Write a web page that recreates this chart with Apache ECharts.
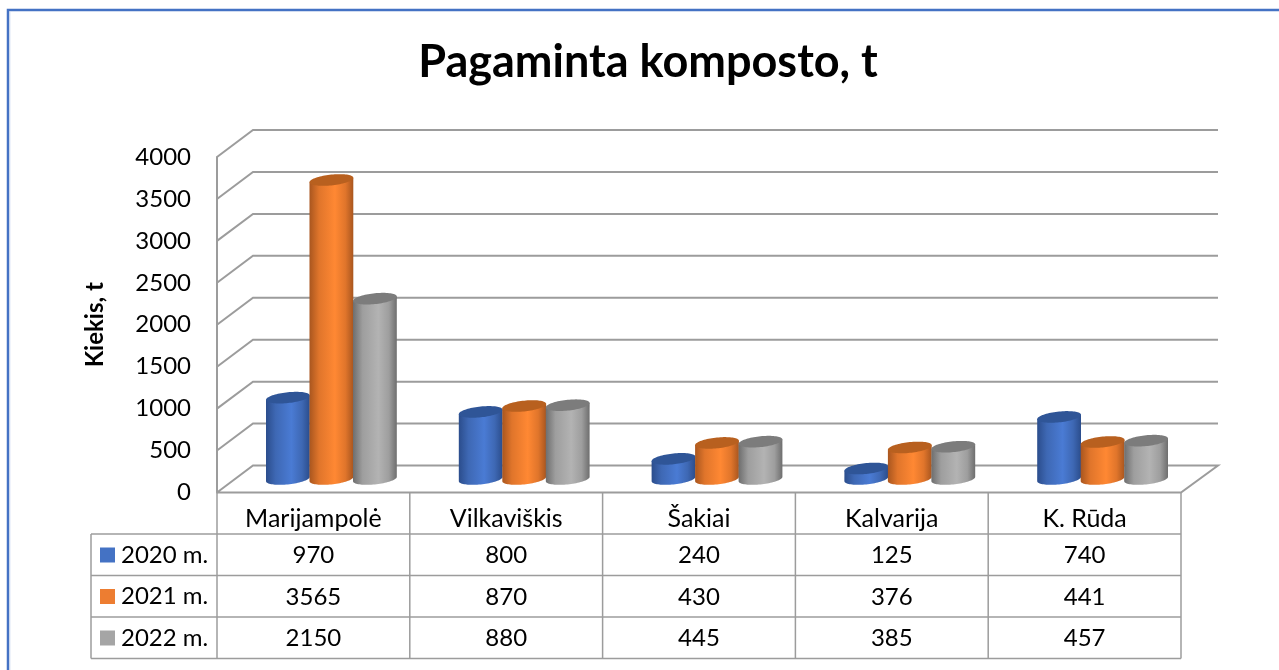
<!DOCTYPE html>
<html>
<head>
<meta charset="utf-8">
<style>html,body{margin:0;padding:0;background:#fff;overflow:hidden}#c{width:1279px;height:670px}</style>
<script src="https://cdn.jsdelivr.net/npm/echarts@6/dist/echarts.min.js"></script>
</head>
<body>
<div id="c"></div>
<script>
var titleText = 'Pagaminta komposto, t';
var yAxisTitle = 'Kiekis, t';
var categories = ['Marijampolė', 'Vilkaviškis', 'Šakiai', 'Kalvarija', 'K. Rūda'];
var seriesNames = ['2020 m.', '2021 m.', '2022 m.'];
var values2020 = [970, 800, 240, 125, 740];
var values2021 = [3565, 870, 430, 376, 441];
var values2022 = [2150, 880, 445, 385, 457];
var yTicks = [0, 500, 1000, 1500, 2000, 2500, 3000, 3500, 4000];
var legendColors = ['#4472C4', '#ED7D31', '#A5A5A5'];
var bodyShades = [
  ['#2B4D8C', '#3E68B4', '#4A7BD4', '#3E68B4', '#2B4D8C'],
  ['#A9561F', '#E0752B', '#FF8833', '#E0752B', '#A9561F'],
  ['#6E6E6E', '#9E9E9E', '#B3B3B3', '#9E9E9E', '#6E6E6E']
];
var topShades = ['#2F5597', '#B8601F', '#7C7C7C'];

var FONT = 'Lato';
var GRID_COLOR = '#9C9C9C';
var DEPTH_X = 36, DEPTH_Y = 27;
var BAR_PITCH = 43.5, RX = 21.9, RY = 5.4, TILT = 0.1;
var ROW_H = 41.5, TABLE_LEFT = 91;

function bottomOf(cs) { return cs.y + cs.height; }

function renderWall(params, api) {
  var cs = params.coordSys;
  var v = api.value(1);
  var p = api.coord([0, v]);
  var left = cs.x, right = cs.x + cs.width, y = p[1];
  var pts = [[left, y], [left + DEPTH_X, y - DEPTH_Y], [right + DEPTH_X + 1, y - DEPTH_Y]];
  if (v === 0) { pts.push([right, y]); pts.push([left, y]); }
  return { type: 'polyline', shape: { points: pts }, style: { stroke: GRID_COLOR, lineWidth: 2, fill: 'none' }, silent: true };
}

function renderTable(params, api) {
  var cs = params.coordSys, band = cs.width / categories.length, bot = bottomOf(cs);
  var children = [];
  var ln = function (x1, y1, x2, y2) {
    children.push({ type: 'line', shape: { x1: x1, y1: y1, x2: x2, y2: y2 }, style: { stroke: GRID_COLOR, lineWidth: 1.5 } });
  };
  for (var r = 0; r <= seriesNames.length; r++) {
    var ry = bot + ROW_H * (r + 1);
    ln(TABLE_LEFT, ry, cs.x + cs.width, ry);
  }
  ln(TABLE_LEFT, bot + ROW_H, TABLE_LEFT, bot + ROW_H * 4);
  for (var c = 0; c <= categories.length; c++) {
    ln(cs.x + band * c, bot, cs.x + band * c, bot + ROW_H * 4);
  }
  return { type: 'group', children: children, silent: true };
}

function cylinderRender(sIdx) {
  return function (params, api) {
    var cat = api.value(0), val = api.value(1);
    var cs = params.coordSys;
    var top = api.coord([cat, val]);
    var base = api.coord([cat, 0]);
    var cx = top[0] + DEPTH_X / 2 + (sIdx - 1) * BAR_PITCH;
    var yTop = top[1] - DEPTH_Y / 2, yBase = base[1] - DEPTH_Y / 2;
    var bodyPts = [], topPts = [], n = 40, i, t;
    for (i = 0; i <= n; i++) {
      t = Math.PI * i / n;
      bodyPts.push([cx + RX * Math.cos(t), yBase + RY * Math.sin(t) - TILT * RX * Math.cos(t)]);
    }
    bodyPts.push([cx - RX, yTop + TILT * RX]);
    bodyPts.push([cx + RX, yTop - TILT * RX]);
    for (i = 0; i < 2 * n; i++) {
      t = Math.PI * i / n;
      topPts.push([cx + RX * Math.cos(t), yTop + RY * Math.sin(t) - TILT * RX * Math.cos(t)]);
    }
    var sh = bodyShades[sIdx];
    var grad = { type: 'linear', x: 0, y: 0, x2: 1, y2: 0, colorStops: [
      { offset: 0, color: sh[0] }, { offset: 0.22, color: sh[1] }, { offset: 0.58, color: sh[2] }, { offset: 0.82, color: sh[3] }, { offset: 1, color: sh[4] }
    ] };
    var textX = top[0], textY = bottomOf(cs) + ROW_H * (sIdx + 1) + ROW_H / 2 + 1;
    return { type: 'group', children: [
      { type: 'polygon', shape: { points: bodyPts }, style: { fill: grad } },
      { type: 'polygon', shape: { points: topPts }, style: { fill: topShades[sIdx] } },
      { type: 'text', x: textX, y: textY, style: { text: String(val), fill: '#000', font: '24px ' + FONT, textAlign: 'center', textVerticalAlign: 'middle' } }
    ] };
  };
}

function pairs(arr) { return arr.map(function (v, i) { return [i, v]; }); }

var chart = echarts.init(document.getElementById('c'), null, { renderer: 'canvas' });
var allSeries = [
  { type: 'custom', name: 'walls', renderItem: renderWall, data: yTicks.map(function (v) { return [0, v]; }), encode: { x: 0, y: 1 }, silent: true, clip: false, z: 1 },
  { type: 'custom', name: 'table', renderItem: renderTable, data: [[0, 0]], encode: { x: 0, y: 1 }, silent: true, clip: false, z: 1 }
];
[values2020, values2021, values2022].forEach(function (vals, i) {
  allSeries.push({
    type: 'custom', name: seriesNames[i], renderItem: cylinderRender(i), data: pairs(vals),
    encode: { x: 0, y: 1 }, clip: false, z: 3 + i, itemStyle: { color: legendColors[i] }
  });
});

chart.setOption({
  animation: false,
  backgroundColor: '#fff',
  textStyle: { fontFamily: FONT },
  title: {
    text: titleText, left: 643, top: 35, textAlign: 'center',
    textStyle: { fontFamily: FONT, fontSize: 45, fontWeight: 'bold', color: '#000' }
  },
  legend: seriesNames.map(function (n, i) {
    return {
      data: [{ name: n, itemStyle: { color: legendColors[i] } }],
      orient: 'vertical', left: 100, top: 543 + ROW_H * i, itemWidth: 15, itemHeight: 15,
      icon: 'rect', selectedMode: false, padding: 0,
      textStyle: { fontFamily: FONT, fontSize: 24, color: '#000', padding: [0, 0, 0, 1] }
    };
  }),
  grid: { left: 217, right: 98, top: 157, bottom: 177.5 },
  xAxis: {
    type: 'category', data: categories,
    axisLine: { show: false }, axisTick: { show: false }, splitLine: { show: false },
    axisLabel: { fontFamily: FONT, fontSize: 25, color: '#000', margin: 14, interval: 0 }
  },
  yAxis: {
    type: 'value', min: 0, max: 4000, interval: 500,
    name: yAxisTitle, nameLocation: 'middle', nameGap: 110,
    nameTextStyle: { fontFamily: FONT, fontSize: 24, fontWeight: 'bold', color: '#000' },
    axisLine: { show: true, lineStyle: { color: GRID_COLOR, width: 2 } },
    axisTick: { show: false }, splitLine: { show: false },
    axisLabel: { fontFamily: FONT, fontSize: 24, color: '#000', margin: 26, formatter: function (v) { return String(v); } }
  },
  graphic: [
    { type: 'rect', shape: { x: 8, y: 10, width: 1400, height: 800 }, style: { fill: 'none', stroke: '#4472C4', lineWidth: 2.5 }, silent: true, z: 10 },
    { type: 'line', shape: { x1: 9.8, y1: 11.5, x2: 9.8, y2: 670 }, style: { stroke: '#C9D6EF', lineWidth: 1 }, silent: true, z: 10 }
  ],
  series: allSeries
});
</script>
</body>
</html>
